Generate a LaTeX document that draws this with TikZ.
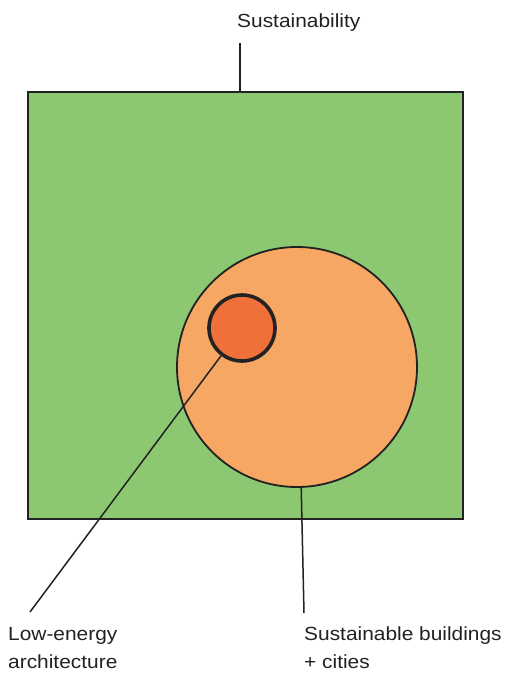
\documentclass[tikz,border=0pt]{standalone}
\usepackage{fontspec}
\setmainfont[FakeStretch=1.1]{Liberation Sans}
\definecolor{sqgreen}{RGB}{140,200,114}
\definecolor{bigorange}{RGB}{246,167,100}
\definecolor{smallorange}{RGB}{239,112,56}
\definecolor{inkline}{RGB}{34,34,34}
\tikzset{
  outline/.style={draw=inkline, line width=1.8pt},
  leader/.style={draw=inkline, line width=1.5pt},
  lbl/.style={inner sep=0pt, text=inkline, font=\fontsize{19}{28}\selectfont, align=left}
}
\begin{document}
\begin{tikzpicture}[x=1pt,y=-1pt]
\useasboundingbox[fill=white] (0,0) rectangle (509,673);
\node[outline, fill=sqgreen, minimum width=435pt, minimum height=427pt, inner sep=0pt] (sq) at (245.5,305.5) {};
\node[outline, circle, fill=bigorange, minimum size=240pt, inner sep=0pt] (big) at (297,367) {};
\node[draw=inkline, line width=3.6pt, circle, fill=smallorange, minimum size=66pt, inner sep=0pt] (small) at (242,328) {};
\node[lbl, anchor=base west] (sus) at (237,27) {Sustainability};
\node[lbl, anchor=north west] (low) at (8,627) {Low-energy\\architecture};
\node[lbl, anchor=north west] (sbc) at (304,627) {Sustainable buildings\\+ cities};
\coordinate (st) at (240,43);
\coordinate (le) at (30,612);
\coordinate (se) at (304,613);
\draw[leader] (st) -- (st |- sq.north);
\draw[leader] (small.233) -- (le);
\draw[leader] (big.272) -- (se);
\end{tikzpicture}
\end{document}
